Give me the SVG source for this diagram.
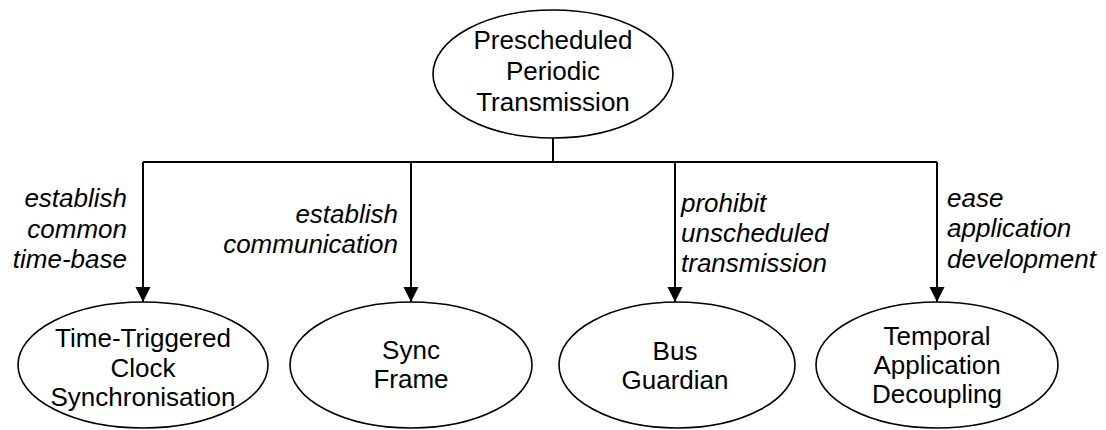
<svg xmlns="http://www.w3.org/2000/svg" width="1106" height="430" viewBox="0 0 1106 430">
<style>
.n{fill:#fff;stroke:#000;stroke-width:1.6}
.t{font-family:"Liberation Sans",Arial,sans-serif;font-size:26px;fill:#000;text-anchor:middle}
.l{font-family:"Liberation Sans",Arial,sans-serif;font-size:26px;font-style:italic;fill:#000}
.c{stroke:#000;stroke-width:2;fill:none}
</style>
<defs>
<marker id="ah" markerUnits="userSpaceOnUse" markerWidth="16" markerHeight="16" refX="15" refY="7.5" orient="auto">
<path d="M0,0 L15,7.5 L0,15 Z" fill="#000"/>
</marker>
</defs>
<rect width="1106" height="430" fill="#fff"/>
<g id="connectors">
<path class="c" d="M553,138 V162"/>
<path class="c" d="M143,162 H937"/>
<path class="c" d="M143,162 V302" marker-end="url(#ah)"/>
<path class="c" d="M411,162 V302" marker-end="url(#ah)"/>
<path class="c" d="M675,162 V302" marker-end="url(#ah)"/>
<path class="c" d="M937,162 V302" marker-end="url(#ah)"/>
<text class="l" text-anchor="end"><tspan x="127" y="207">establish</tspan><tspan x="127" y="238">common</tspan><tspan x="127" y="268">time-base</tspan></text>
<text class="l" text-anchor="end"><tspan x="398" y="223">establish</tspan><tspan x="398" y="253">communication</tspan></text>
<text class="l"><tspan x="681" y="212">prohibit</tspan><tspan x="681" y="242">unscheduled</tspan><tspan x="681" y="272">transmission</tspan></text>
<text class="l"><tspan x="947" y="207">ease</tspan><tspan x="947" y="237">application</tspan><tspan x="947" y="268">development</tspan></text>
</g>
<g id="node-top">
<ellipse class="n" cx="553" cy="74" rx="120" ry="64"/>
<text class="t"><tspan x="553" y="49">Prescheduled</tspan><tspan x="553" y="80">Periodic</tspan><tspan x="553" y="111">Transmission</tspan></text>
</g>
<g id="node-clock">
<ellipse class="n" cx="143" cy="365" rx="125" ry="63"/>
<text class="t"><tspan x="143" y="347">Time-Triggered</tspan><tspan x="143" y="377">Clock</tspan><tspan x="143" y="406">Synchronisation</tspan></text>
</g>
<g id="node-sync">
<ellipse class="n" cx="411" cy="365" rx="121" ry="63"/>
<text class="t"><tspan x="411" y="359">Sync</tspan><tspan x="411" y="388">Frame</tspan></text>
</g>
<g id="node-bus">
<ellipse class="n" cx="677" cy="365" rx="118" ry="63"/>
<text class="t"><tspan x="675" y="360">Bus</tspan><tspan x="675" y="389">Guardian</tspan></text>
</g>
<g id="node-temporal">
<ellipse class="n" cx="937" cy="365" rx="121" ry="63"/>
<text class="t"><tspan x="937" y="345">Temporal</tspan><tspan x="937" y="374">Application</tspan><tspan x="937" y="403">Decoupling</tspan></text>
</g>
</svg>
